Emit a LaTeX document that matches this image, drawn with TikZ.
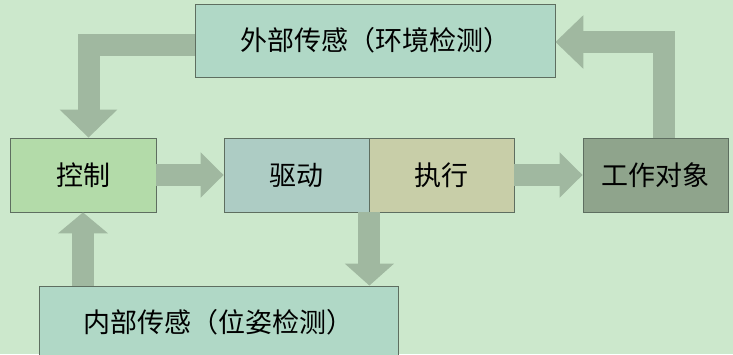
\documentclass[tikz,border=0pt]{standalone}
\usepackage{fontspec}
\newfontfamily\cjk{Noto Sans CJK SC}
\usetikzlibrary{arrows.meta,calc}
\definecolor{bg}{HTML}{CCE8CC}
\definecolor{mint}{HTML}{B0D8C6}
\definecolor{ctrlc}{HTML}{B3DBA9}
\definecolor{drivec}{HTML}{ADCCC4}
\definecolor{execc}{HTML}{C8CEA8}
\definecolor{workc}{HTML}{8FA48C}
\definecolor{arrc}{HTML}{A0B8A0}
\definecolor{edge}{HTML}{5E6E60}
\tikzset{
  box/.style={draw=edge, line width=0.8pt, inner sep=0pt, font=\cjk\fontsize{27}{30}\selectfont, text=black},
  blk/.style={arrc, line width=22pt, line join=miter},
  hd/.style={-{Triangle[width=#1,length=23pt]}},
}
\begin{document}
\begin{tikzpicture}[x=1pt,y=-1pt]
\useasboundingbox (0,0) rectangle (733,354);
\clip (0,0) rectangle (733,354);
\fill[bg] (0,0) rectangle (733,354);
\node[box, fill=mint, minimum width=360pt, minimum height=73pt] (top) at (375,40.5) {外部传感（环境检测）};
\node[box, fill=ctrlc, minimum width=146pt, minimum height=74pt] (ctrl) at (83,175) {控制};
\node[box, fill=drivec, minimum width=145pt, minimum height=74pt] (drive) at (296.5,175) {驱动};
\node[box, fill=execc, minimum width=145pt, minimum height=74pt] (exec) at (441.5,175) {执行};
\node[box, fill=workc, minimum width=145pt, minimum height=74pt] (work) at (655.5,175) {工作对象};
\node[box, fill=mint, minimum width=359pt, minimum height=73pt] (bot) at (218.5,322.5) {内部传感（位姿检测）};
% arrows
\draw[blk, hd=44pt] (ctrl.east) -- (drive.west);
\draw[blk, hd=44pt] (exec.east) -- (work.west);
\draw[blk, -{Triangle[width=48pt,length=22pt]}] (drive.south east) -- (drive.south east |- bot.north);
\draw[blk, -{Triangle[width=49pt,length=21pt]}] (ctrl.south |- bot.north) -- (ctrl.south);
\draw[blk, -{Triangle[width=56pt,length=28pt]}] ([yshift=-4pt]top.west) -| ([xshift=5.5pt]ctrl.north);
\draw[blk, -{Triangle[width=52pt,length=28pt]}] ([xshift=8.5pt]work.north) |- ([yshift=-1.5pt]top.east);
\end{tikzpicture}
\end{document}
